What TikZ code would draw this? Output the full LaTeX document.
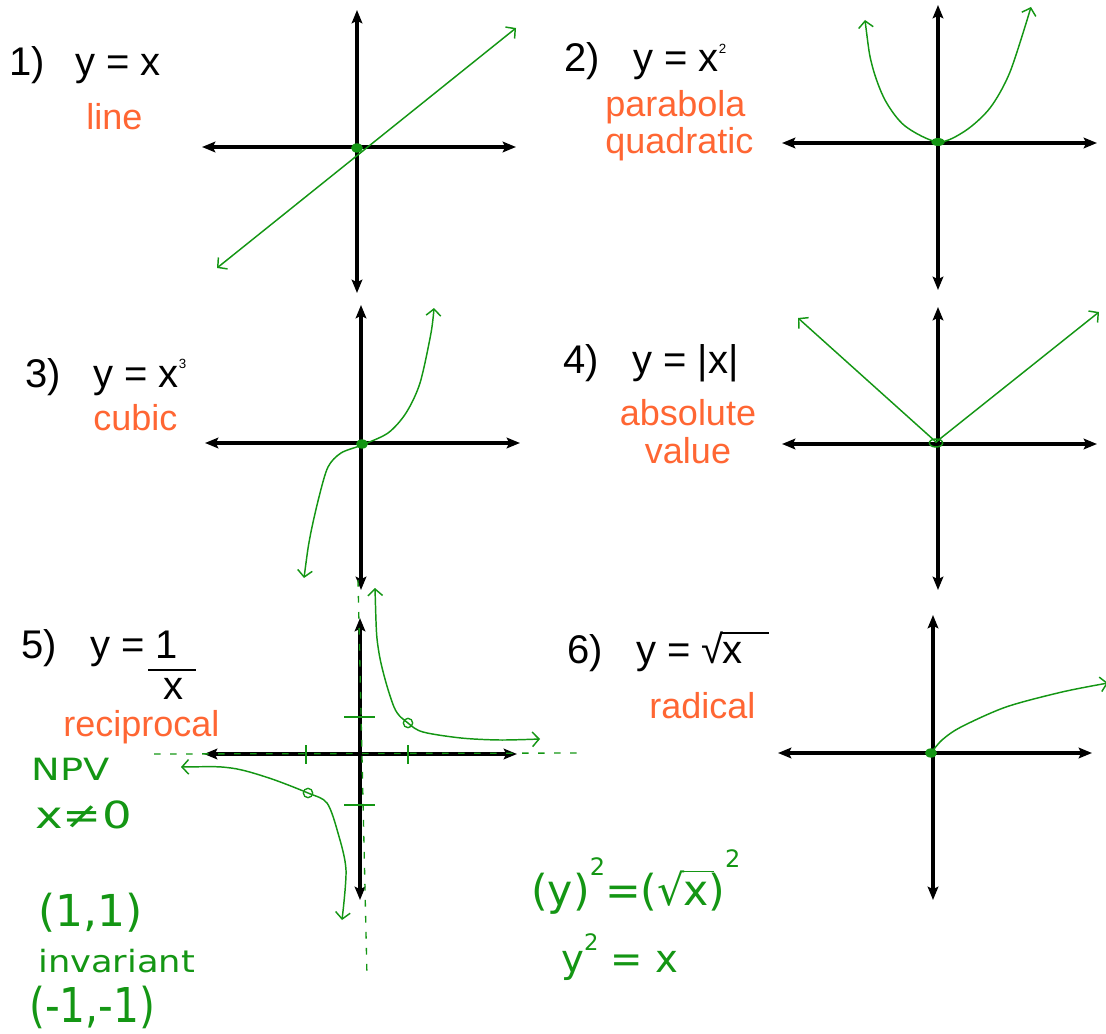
\documentclass[tikz,border=0pt]{standalone}
\usepackage{fontspec}
\setmainfont{Liberation Sans}
\newfontfamily\hand{DejaVu Sans}
\usetikzlibrary{arrows.meta}
\definecolor{pen}{RGB}{20,150,20}
\definecolor{orng}{RGB}{255,102,51}

\begin{document}
\begin{tikzpicture}[x=0.75pt,y=-0.75pt,
    axis/.style={line width=3pt,{Stealth[length=10pt,width=8pt,inset=2pt]}-{Stealth[length=10pt,width=8pt,inset=2pt]}},
    graph/.style={pen,line width=1.1pt,line cap=round,{Straight Barb[length=5pt,width=11pt]}-{Straight Barb[length=5pt,width=11pt]}},
    eq/.style={anchor=base west,inner sep=0pt,font=\fontsize{30}{36}\selectfont},
    kind/.style={anchor=base west,inner sep=0pt,text=orng,font=\fontsize{27}{32}\selectfont},
    scribble/.style={anchor=base west,inner sep=0pt,text=pen,font=\hand\fontsize{26}{30}\selectfont},
    asym/.style={pen,line width=1pt,dash pattern=on 5pt off 7pt}]

    \useasboundingbox (0,0) rectangle (1106,1034);

    % 1) y = x
    \draw[axis] (357,10) -- (357,293);
    \draw[axis] (202,147) -- (516,147);
    \draw[graph] (217,268) -- (516,28);
    \fill[pen] (357,148) ellipse (4.5pt and 3.5pt);
    \node[eq] (num1) at (9,76) {1)};
    \node[eq] (eq1) at (75,76) {y = x};
    \node[kind] (kind1) at (86,130) {line};

    % 2) y = x^2
    \draw[axis] (938,5) -- (938,290);
    \draw[axis] (782,143) -- (1097,143);
    \draw[graph] plot[smooth] coordinates {(865,20) (872,65) (885,100) (905,126) (938,142) (965,131) (990,108) (1010,72) (1031,7)};
    \fill[pen] (938,142) ellipse (5pt and 3pt);
    \node[eq] (num2) at (564,72) {2)};
    \node[eq] (eq2) at (633,72) {y = x\raisebox{14pt}{\fontsize{10}{10}\selectfont 2}};
    \node[kind] (kind2a) at (605,117) {parabola};
    \node[kind] (kind2b) at (605,154) {quadratic};

    % 3) y = x^3
    \draw[axis] (361,305) -- (361,590);
    \draw[axis] (205,443) -- (520,443);
    \draw[graph] plot[smooth] coordinates {(304,578) (310,537) (319,497) (328,467) (341,453) (362,445) (388,433) (406,413) (420,383) (431,333) (434,308)};
    \fill[pen] (362,444) ellipse (4.5pt and 3.5pt);
    \node[eq] (num3) at (25,387) {3)};
    \node[eq] (eq3) at (93,387) {y = x\raisebox{14pt}{\fontsize{10}{10}\selectfont 3}};
    \node[kind] (kind3) at (93,430) {cubic};

    % 4) y = |x|
    \draw[axis] (938,307) -- (938,590);
    \draw[axis] (782,444) -- (1097,444);
    \draw[graph] (798,318) -- (936,442) -- (1099,312);
    \draw[pen,line width=1.1pt] (936,443) ellipse (5pt and 3pt);
    \node[eq] (num4) at (563,373) {4)};
    \node[eq] (eq4) at (632,373) {y = |x|};
    \node[kind,anchor=base] (kind4a) at (688,425) {absolute};
    \node[kind,anchor=base] (kind4b) at (688,463) {value};

    % 5) y = 1/x
    \draw[axis] (360,618) -- (360,900);
    \draw[axis] (204,754) -- (517,754);
    \draw[asym] (358,580) -- (367,977);
    \draw[asym] (154,754) -- (585,753);
    \foreach \tx in {306,408} \draw[pen,line width=1pt] (\tx,745) -- (\tx,764);
    \foreach \ty in {717,805} \draw[pen,line width=1pt] (344,\ty) -- (375,\ty);
    \draw[graph] plot[smooth] coordinates {(375,588) (379,653) (394,707) (408,723) (423,732) (461,738) (500,740) (540,739)};
    \draw[graph] plot[smooth] coordinates {(181,767) (231,768) (269,778) (308,793) (327,803) (338,833) (346,870) (342,920)};
    \draw[pen,line width=1pt] (408,723) circle (3.5pt) (308,793) circle (3.5pt);
    \node[eq] (num5) at (21,658) {5)};
    \node[eq] (eq5) at (90,658) {y = 1};
    \node[eq] (den5) at (163,699) {x};
    \draw[line width=1.2pt] (148,670) -- (196,670);
    \node[kind] (kind5) at (63,736) {reciprocal};
    \node[scribble,xscale=1.25,font=\hand\fontsize{23}{26}\selectfont] (npv) at (31,780) {NPV};
    \node[scribble,xscale=1.25,font=\hand\fontsize{28}{32}\selectfont] (xnot) at (35,828) {x≠0};
    \node[scribble,font=\hand\fontsize{33}{38}\selectfont] (pt1) at (38,926) {(1,1)};
    \node[scribble,xscale=1.15,font=\hand\fontsize{23}{26}\selectfont] (inv) at (38,972) {invariant};
    \node[scribble,xscale=0.85,font=\hand\fontsize{36}{40}\selectfont] (pt2) at (29,1022) {(-1,-1)};

    % 6) y = sqrt(x)
    \draw[axis] (933,615) -- (933,900);
    \draw[axis] (778,753) -- (1092,753);
    \draw[pen,line width=1.1pt,line cap=round,-{Straight Barb[length=5pt,width=11pt]}] plot[smooth] coordinates {(931,753) (942,740) (961,727) (1006,707) (1062,692) (1108,683)};
    \fill[pen] (931,753) ellipse (4.5pt and 3.5pt);
    \node[eq] (num6) at (567,663) {6)};
    \node[eq] (eq6) at (636,663) {y = √\kern-1pt\rlap{\rule[22pt]{35pt}{1.1pt}}x};
    \node[kind] (kind6) at (649,718) {radical};
    \node[scribble,font=\hand\fontsize{32}{38}\selectfont] (sq1) at (531,905) {(y)\raisebox{22pt}{\fontsize{18}{18}\selectfont 2}=(√\kern-1pt\rlap{\rule[24.5pt]{23pt}{1.3pt}}x)\raisebox{28pt}{\fontsize{18}{18}\selectfont 2}};
    \node[scribble,font=\hand\fontsize{29}{34}\selectfont] (sq2) at (561,972) {y\raisebox{16pt}{\fontsize{17}{17}\selectfont 2} = x};

\end{tikzpicture}
\end{document}
